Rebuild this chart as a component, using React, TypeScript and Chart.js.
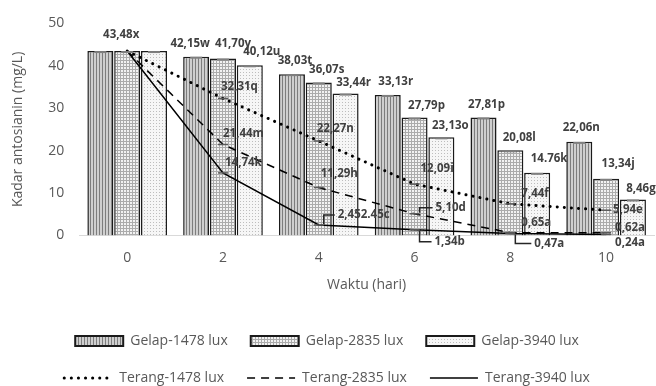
import React, { useEffect, useRef } from 'react';
import { Chart, registerables } from 'chart.js';

Chart.register(...registerables);

// ---- data ----
const DAYS = ['0', '2', '4', '6', '8', '10'];

const GELAP_1478 = [43.48, 42.15, 38.03, 33.13, 27.81, 22.06];
const GELAP_2835 = [43.48, 41.70, 36.07, 27.79, 20.08, 13.34];
const GELAP_3940 = [43.48, 40.12, 33.44, 23.13, 14.76, 8.46];
const TERANG_1478 = [43.48, 32.31, 22.27, 12.09, 7.44, 5.94];
const TERANG_2835 = [43.48, 21.44, 11.29, 5.10, 0.65, 0.62];
const TERANG_3940 = [43.48, 14.74, 2.45, 1.34, 0.47, 0.24];

const LABELS_GELAP_1478 = ['', '42,15w', '38,03t', '33,13r', '27,81p', '22,06n'];
const LABELS_GELAP_2835 = ['43,48x', '41,70y', '36,07s', '27,79p', '20,08l', '13,34j'];
const LABELS_GELAP_3940 = ['', '40,12u', '33,44r', '23,13o', '14.76k', '8,46g'];
const LABELS_TERANG_1478 = ['', '32,31q', '22,27n', '12,09i', '7,44f', '5,94e'];
const LABELS_TERANG_2835 = ['', '21,44m', '11,29h', '5,10d', '0,65a', '0,62a'];
const LABELS_TERANG_3940 = ['', '14,74k', '2,452.45c', '1,34b', '0,47a', '0,24a'];

// label nudges (style only): [dx, dy] relative to the mark
const NUDGE_GELAP_1478 = [[0, 0], [-6, -13], [3, -13], [8, -13], [3, -13], [2, -14]];
const NUDGE_GELAP_2835 = [[-6, -16], [10, -15], [8, -13], [12, -12], [9, -13], [12, -15]];
const NUDGE_GELAP_3940 = [[0, 0], [12, -14], [8, -11], [9, -12], [12, -14], [8, -11]];
const NUDGE_TERANG_1478 = [[0, 0], [-2, -12], [-2, -12], [6, -15], [11, -10], [7, 0]];
const NUDGE_TERANG_2835 = [[0, 0], [0, -11], [2, -14], [21, -6], [11, -10], [9, -5]];
const NUDGE_TERANG_3940 = [[0, 0], [2, -10], [19, -10], [20, 12], [24, 10], [9, 8]];

const ALL_LABELS = [LABELS_GELAP_1478, LABELS_GELAP_2835, LABELS_GELAP_3940, LABELS_TERANG_1478, LABELS_TERANG_2835, LABELS_TERANG_3940];
const ALL_NUDGES = [NUDGE_GELAP_1478, NUDGE_GELAP_2835, NUDGE_GELAP_3940, NUDGE_TERANG_1478, NUDGE_TERANG_2835, NUDGE_TERANG_3940];

const TEXT_GRAY = '#595959';
const FONT = 'Open Sans';

function makePattern(kind: string): CanvasPattern | string {
  const c = document.createElement('canvas');
  c.width = 3;
  c.height = 3;
  const g = c.getContext('2d');
  if (!g) return '#ccc';
  if (kind === 'stripes') {
    g.fillStyle = '#cfcfcf';
    g.fillRect(0, 0, 3, 3);
    g.fillStyle = '#7d7d7d';
    g.fillRect(0, 0, 1, 3);
  } else if (kind === 'grid') {
    g.fillStyle = '#f2f2f2';
    g.fillRect(0, 0, 3, 3);
    g.fillStyle = '#ababab';
    g.fillRect(0, 0, 3, 1);
    g.fillRect(0, 0, 1, 3);
  } else {
    g.fillStyle = '#f6f6f6';
    g.fillRect(0, 0, 3, 3);
    g.fillStyle = '#bdbdbd';
    g.fillRect(0, 0, 1, 1);
  }
  const p = g.createPattern(c, 'repeat');
  return p || '#ccc';
}

const labelPlugin = {
  id: 'valueLabels',
  afterDatasetsDraw(chart: any) {
    const ctx = chart.ctx as CanvasRenderingContext2D;
    ctx.save();
    chart.data.datasets.forEach((ds: any, di: number) => {
      const meta = chart.getDatasetMeta(di);
      const isLine = ds.type === 'line';
      const texts = ALL_LABELS[di];
      const nudges = ALL_NUDGES[di];
      meta.data.forEach((el: any, i: number) => {
        const { x, y } = el.getProps(['x', 'y'], true);
        // error caps
        ctx.setLineDash([]);
        if (!isLine) {
          ctx.strokeStyle = '#7f7f7f';
          ctx.lineWidth = 2;
          ctx.beginPath();
          ctx.moveTo(x - 6, y + 1);
          ctx.lineTo(x + 6, y + 1);
          ctx.stroke();
        } else if (i > 0) {
          ctx.strokeStyle = '#595959';
          ctx.lineWidth = 1.5;
          ctx.beginPath();
          ctx.moveTo(x - 5, y);
          ctx.lineTo(x + 5, y);
          ctx.stroke();
        }
        const t = texts[i];
        if (!t) return;
        const [dx, dy] = nudges[i];
        ctx.font = `bold 11.5px "${FONT}"`;
        ctx.fillStyle = '#404040';
        ctx.textBaseline = 'middle';
        if (!isLine) {
          ctx.textAlign = 'center';
          ctx.fillText(t, x + dx, y + dy);
        } else {
          ctx.textAlign = 'left';
          const lx = x + dx;
          const ly = y + dy;
          if (dx >= 15) {
            ctx.strokeStyle = '#262626';
            ctx.lineWidth = 1.5;
            ctx.beginPath();
            ctx.moveTo(x + 5, y + (dy > 0 ? 1 : -1));
            ctx.lineTo(x + 5, ly);
            ctx.lineTo(lx - 3, ly);
            ctx.stroke();
          }
          ctx.fillText(t, lx, ly);
        }
      });
    });
    ctx.restore();
  },
};

export default function App() {
  const ref = useRef<HTMLCanvasElement | null>(null);

  useEffect(() => {
    document.body.style.margin = '0';
    document.body.style.overflow = 'hidden';
    const canvas = ref.current;
    if (!canvas) return;

    const barBorder = '#1a1a1a';
    const chart = new Chart(canvas, {
      type: 'bar',
      data: {
        labels: DAYS,
        datasets: [
          {
            type: 'bar',
            label: 'Gelap-1478 lux',
            data: GELAP_1478,
            backgroundColor: makePattern('stripes') as any,
            borderColor: barBorder,
            borderWidth: 1.5,
            order: 1,
          },
          {
            type: 'bar',
            label: 'Gelap-2835 lux',
            data: GELAP_2835,
            backgroundColor: makePattern('grid') as any,
            borderColor: barBorder,
            borderWidth: 1.5,
            order: 1,
          },
          {
            type: 'bar',
            label: 'Gelap-3940 lux',
            data: GELAP_3940,
            backgroundColor: makePattern('dots') as any,
            borderColor: barBorder,
            borderWidth: 1.5,
            order: 1,
          },
          {
            type: 'line',
            label: 'Terang-1478 lux',
            data: TERANG_1478,
            borderColor: '#000',
            backgroundColor: '#000',
            borderWidth: 3,
            borderDash: [0.1, 7],
            borderCapStyle: 'round',
            pointRadius: 0,
            tension: 0,
            fill: false,
            order: 0,
          },
          {
            type: 'line',
            label: 'Terang-2835 lux',
            data: TERANG_2835,
            borderColor: '#000',
            backgroundColor: '#000',
            borderWidth: 1.5,
            borderDash: [8, 6],
            pointRadius: 0,
            tension: 0,
            fill: false,
            order: 0,
          },
          {
            type: 'line',
            label: 'Terang-3940 lux',
            data: TERANG_3940,
            borderColor: '#000',
            backgroundColor: '#000',
            borderWidth: 1.5,
            pointRadius: 0,
            tension: 0,
            fill: false,
            order: 0,
          },
        ] as any,
      },
      options: {
        responsive: false,
        animation: false,
        layout: { padding: { top: 22, left: 0, right: 2, bottom: 0 } },
        datasets: {
          bar: { categoryPercentage: 0.84, barPercentage: 0.97 },
        } as any,
        scales: {
          x: {
            grid: { display: false, drawTicks: false },
            border: { display: true, color: '#d9d9d9', width: 1 },
            ticks: { color: TEXT_GRAY, font: { family: FONT, size: 14 }, padding: 14 },
            title: {
              display: true,
              text: 'Waktu (hari)',
              color: TEXT_GRAY,
              font: { family: FONT, size: 14 },
              padding: { top: -4, bottom: 18 },
            },
          },
          y: {
            min: 0,
            max: 50,
            grid: { display: false, drawTicks: false },
            border: { display: false },
            ticks: { stepSize: 10, color: TEXT_GRAY, font: { family: FONT, size: 14 }, padding: 15 },
            title: {
              display: true,
              text: 'Kadar antosianin (mg/L)',
              color: TEXT_GRAY,
              font: { family: FONT, size: 14 },
              padding: { top: 10, bottom: 6.5 },
            },
          },
        },
        plugins: {
          tooltip: { enabled: false },
          legend: {
            position: 'bottom',
            maxHeight: 75,
            labels: {
              usePointStyle: true,
              pointStyleWidth: 48,
              boxHeight: 10,
              padding: 23,
              color: TEXT_GRAY,
              font: { family: FONT, size: 14 },
              generateLabels: (ch: any) => {
                const items = (Chart.defaults.plugins.legend.labels as any).generateLabels(ch);
                return items.map((it: any) => {
                  const ds = ch.data.datasets[it.datasetIndex];
                  const isLine = ds.type === 'line';
                  return {
                    ...it,
                    pointStyle: isLine ? 'line' : 'rect',
                    lineWidth: isLine ? ds.borderWidth : 2,
                    lineDash: isLine ? ds.borderDash || [] : [],
                    lineCap: isLine ? ds.borderCapStyle || 'butt' : 'butt',
                    strokeStyle: isLine ? '#000' : barBorder,
                  };
                });
              },
              sort: (a: any, b: any) => a.datasetIndex - b.datasetIndex,
            },
          } as any,
        },
      },
      plugins: [labelPlugin],
    });

    return () => chart.destroy();
  }, []);

  return (
    <div style={{ width: 656, height: 386 }}>
      <canvas ref={ref} width={656} height={386} />
    </div>
  );
}
